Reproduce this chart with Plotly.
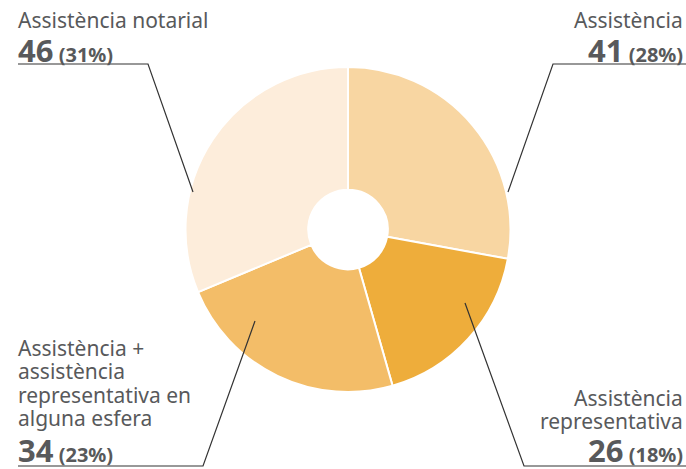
import plotly.graph_objects as go

W, H = 686, 469

# data
categories = ["Assistència", "Assistència representativa",
              "Assistència + assistència representativa en alguna esfera",
              "Assistència notarial"]
values = [41, 26, 34, 46]
percents = [28, 18, 23, 31]
colors = ["#F8D6A2", "#EEAD3B", "#F3BD68", "#FDEDDB"]

TXT = "#58595B"
FONT = "Noto Sans"


def px(x):
    return x / W


def py(y):
    return 1 - y / H


fig = go.Figure(go.Pie(
    labels=categories,
    values=values,
    sort=False,
    direction="clockwise",
    rotation=0,
    hole=0.245,
    marker=dict(colors=colors, line=dict(color="white", width=2)),
    textinfo="none",
    hoverinfo="label+value+percent",
    domain=dict(x=[px(185), px(511)], y=[py(392), py(67)]),
))

# label blocks: name lines, value index, x, first baseline, number baseline
blocks = [
    (["Assistència notarial"], 3, 17, 27, 57, "left"),
    (["Assistència"], 0, 684, 27, 57, "right"),
    (["Assistència +", "assistència", "representativa en", "alguna esfera"],
     2, 17, 355, 457, "left"),
    (["Assistència", "representativa"], 1, 684, 405, 457, "right"),
]
for lines, i, x, b0, bn, anchor in blocks:
    # base size 18 gives the tight 23.4px line pitch, spans draw at 21px
    txt = "<br>".join(f"<span style='font-size:21px'>{s}</span>" for s in lines)
    mid = b0 + (len(lines) - 1) * 23.4 / 2 - 7
    fig.add_annotation(
        x=px(x), y=py(mid), xref="paper", yref="paper",
        text=txt, showarrow=False, xanchor=anchor, yanchor="middle",
        align=anchor, borderpad=0,
        font=dict(family=FONT, size=18, color=TXT),
    )
    fig.add_annotation(
        x=px(x), y=py(bn - 6.6), xref="paper", yref="paper",
        text=f"<b><span style='font-size:31px'>{values[i]}</span> ({percents[i]}%)</b>",
        showarrow=False, xanchor=anchor, yanchor="middle",
        align=anchor, borderpad=0,
        font=dict(family=FONT, size=20, color=TXT),
    )

# leader lines: underline + connector into the slice
leaders = [
    [(18, 64), (148, 64), (193, 192)],
    [(686, 64), (553, 64), (508, 192)],
    [(18, 466), (203, 466), (255, 321)],
    [(686, 466), (524, 466), (465, 303)],
]
for pts in leaders:
    path = "M " + " L ".join(f"{px(a)},{py(b)}" for a, b in pts)
    fig.add_shape(type="path", path=path, xref="paper", yref="paper",
                  line=dict(color="#333333", width=1.2))

fig.update_layout(
    width=W, height=H,
    margin=dict(l=0, r=0, t=0, b=0),
    showlegend=False,
    paper_bgcolor="white",
    plot_bgcolor="white",
)

fig.write_html("out.html", config={"displayModeBar": False},
               post_script="document.body.style.margin='0';")
